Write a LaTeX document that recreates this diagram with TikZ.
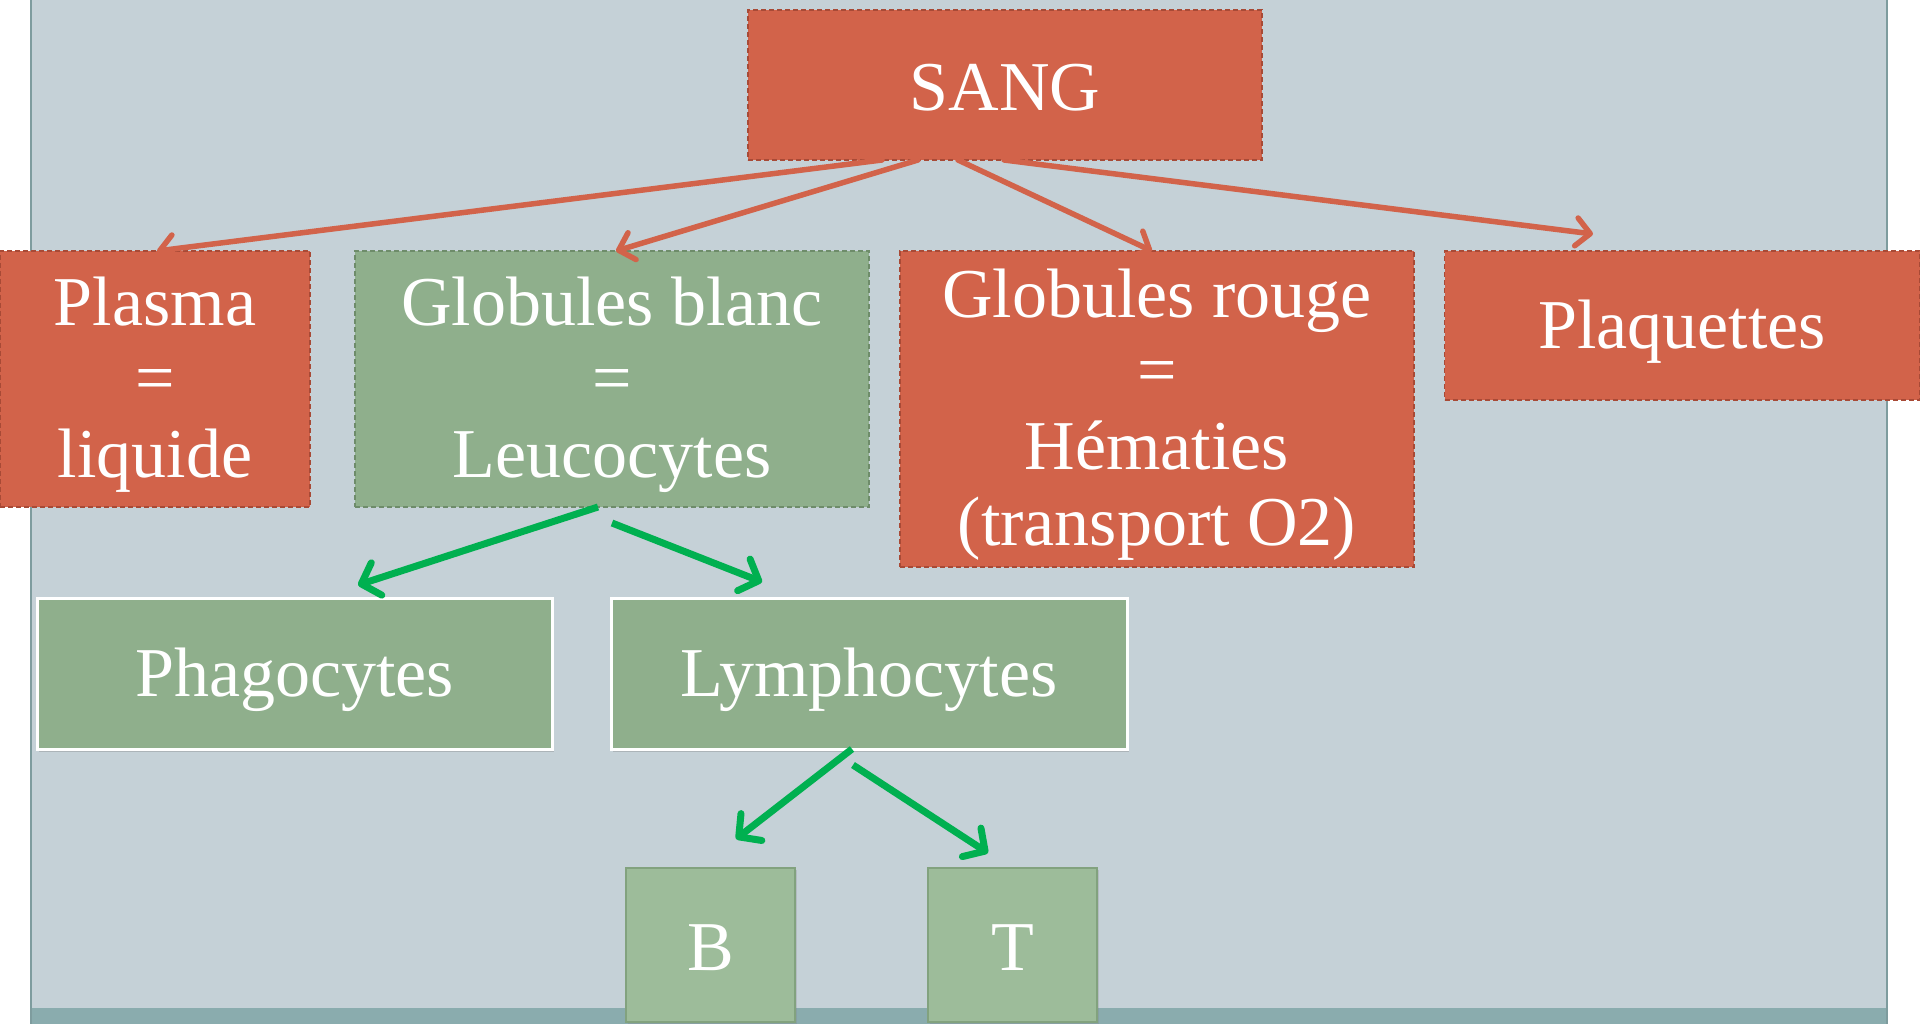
\documentclass[tikz,border=0pt]{standalone}
\usepackage{fontspec}
\setmainfont{Liberation Serif}
\usetikzlibrary{arrows.meta,shadows,calc}
\definecolor{panel}{HTML}{C5D1D7}
\definecolor{strip}{HTML}{8AACAE}
\definecolor{edgeline}{HTML}{7E9C9E}
\definecolor{redfill}{HTML}{D2634A}
\definecolor{redline}{HTML}{A84A36}
\definecolor{greenfill}{HTML}{8FAF8C}
\definecolor{greenline}{HTML}{6E8C6A}
\definecolor{lightgreen}{HTML}{9DBC9A}
\definecolor{lightgreenline}{HTML}{82A27E}
\definecolor{arrowgreen}{HTML}{00B050}
\begin{document}
\begin{tikzpicture}[x=1pt,y=-1pt,
  box/.style={inner sep=0pt, outer sep=0pt},
  txt/.style={inner sep=0pt, text=white, align=center,
    font=\fontsize{70}{76}\selectfont, yshift=-6pt},
  redbox/.style={box, fill=redfill, draw=redline, line width=1.5pt, dash pattern=on 5pt off 3pt},
  greenbox/.style={box, fill=greenfill, draw=greenline, line width=1.5pt, dash pattern=on 5pt off 3pt},
  whitebox/.style={box, fill=greenfill, draw=white, line width=3pt,
    drop shadow={opacity=0.35, shadow xshift=2pt, shadow yshift=-3pt}},
  smallbox/.style={box, fill=lightgreen, draw=lightgreenline, line width=1.5pt,
    drop shadow={opacity=0.25, shadow xshift=1.5pt, shadow yshift=-2pt}},
  redarrow/.style={draw=redfill, line width=5.5pt, line cap=round,
    -{Straight Barb[length=14pt,width=28pt,round]}},
  greenarrow/.style={draw=arrowgreen, line width=7pt,
    -{Straight Barb[length=16pt,width=34pt,round]}}
]
\useasboundingbox (0,0) rectangle (1920,1024);
\fill[white] (0,0) rectangle (1920,1024);
\fill[panel] (31,0) rectangle (1887,1024);
\fill[strip] (31,1008) rectangle (1887,1024);
\draw[edgeline, line width=2pt] (31,0) -- (31,1024);
\draw[edgeline, line width=2pt] (1887,0) -- (1887,1024);

\node[redbox, minimum width=514pt, minimum height=150pt,
  label={[txt,yshift=3pt]center:SANG}] (sang) at (1005,85) {};
\node[redbox, minimum width=310pt, minimum height=256pt,
  label={[txt]center:{Plasma\\=\\liquide}}] (plasma) at (155,379) {};
\node[greenbox, minimum width=514pt, minimum height=256pt,
  label={[txt]center:{Globules blanc\\=\\Leucocytes}}] (gb) at (612,379) {};
\node[redbox, minimum width=514pt, minimum height=316pt,
  label={[txt]center:{Globules rouge\\=\\Hématies\\(transport O2)}}] (gr) at (1157,409) {};
\node[redbox, minimum width=475pt, minimum height=149pt,
  label={[txt]center:Plaquettes}] (plaq) at (1682,325.5) {};
\node[whitebox, minimum width=515pt, minimum height=151pt,
  label={[txt]center:Phagocytes}] (phago) at (294.5,673.5) {};
\node[whitebox, minimum width=516pt, minimum height=151pt,
  label={[txt]center:Lymphocytes}] (lympho) at (869,673.5) {};
\node[smallbox, minimum width=169pt, minimum height=154pt,
  label={[txt,yshift=3pt]center:B}] (b) at (710.5,945) {};
\node[smallbox, minimum width=169pt, minimum height=154pt,
  label={[txt,yshift=3pt]center:T}] (t) at (1012.5,945) {};

\draw[redarrow] ([xshift=134pt]sang.south west) -- ([xshift=2pt]plasma.north);
\draw[redarrow] ([xshift=170pt]sang.south west) -- ([xshift=4pt]gb.north);
\draw[redarrow] ([xshift=210pt]sang.south west) -- ([xshift=-5pt]gr.north);
\draw[redarrow] ([xshift=256pt]sang.south west) -- ([xshift=-89pt,yshift=17pt]plaq.north);

\draw[greenarrow] ([xshift=-14pt]gb.south) -- ([xshift=63.5pt,yshift=13pt]phago.north);
\draw[greenarrow] ([yshift=-16pt]gb.south) -- ([xshift=-107pt,yshift=16pt]lympho.north);
\draw[greenarrow] ([xshift=-17pt]lympho.south) -- ([xshift=25.5pt,yshift=29pt]b.north);
\draw[greenarrow] ([xshift=-16pt,yshift=-16pt]lympho.south) -- ([xshift=-24.5pt,yshift=15pt]t.north);
\end{tikzpicture}
\end{document}
